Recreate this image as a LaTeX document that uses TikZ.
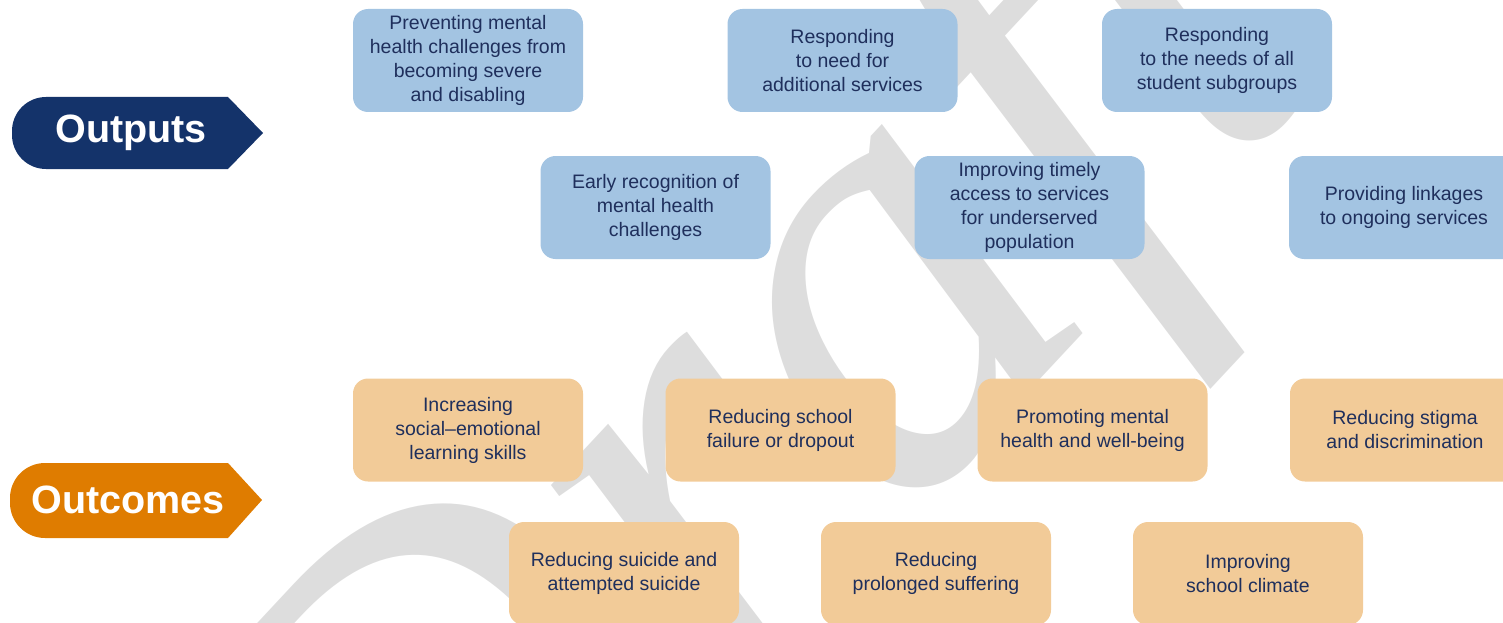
\documentclass[tikz,border=0pt]{standalone}
\usepackage{fontspec}
\setmainfont{Liberation Sans}
\newfontfamily\wmfont{Liberation Serif}
\usetikzlibrary{positioning}
\definecolor{boxblue}{HTML}{A3C4E2}
\definecolor{boxorange}{HTML}{F2CB98}
\definecolor{textnavy}{HTML}{1F2F5C}
\definecolor{labelnavy}{HTML}{14336A}
\definecolor{labelorange}{HTML}{DF7C00}
\definecolor{wmgray}{HTML}{DDDDDD}
\tikzset{
  outbox/.style={fill=boxblue, rounded corners=15pt, minimum width=230pt, minimum height=103pt,
    align=center, text=textnavy, font=\fontsize{19.5}{24}\selectfont, inner sep=0pt},
  ocbox/.style={outbox, fill=boxorange},
  tag/.style={text=white, font=\fontsize{39.5}{40}\bfseries\selectfont, inner sep=0pt}
}
\begin{document}
\begin{tikzpicture}[x=1pt,y=-1pt]
\useasboundingbox (0,0) rectangle (1503,623);
\clip (0,0) rectangle (1503,623);
% watermark
\node[text=wmgray, rotate=47, font=\fontsize{620}{620}\wmfont\itshape\selectfont, inner sep=0pt] (wm) at (775,440) {Draft};
% labels
\fill[labelnavy] (263,133) -- (228,97) [rounded corners=34pt] -- (12,97) -- (12,169) [sharp corners] -- (228,169) -- cycle;
\node[tag] (outputs) at (131,133) {Outputs};
\fill[labelorange] (262,500) -- (228,463) [rounded corners=35pt] -- (10,463) -- (10,538) [sharp corners] -- (228,538) -- cycle;
\node[tag] (outcomes) at (128,500) {Outcomes};
% outputs
\node[outbox] (b1) at (468,60.5) {Preventing mental\\health challenges from\\becoming severe\\and disabling};
\node[outbox] (b2) at (842.5,60.5) {Responding\\to need for\\additional services};
\node[outbox] (b3) at (1217,60.5) {Responding\\to the needs of all\\student subgroups};
\node[outbox] (b4) at (655.5,207.5) {Early recognition of\\mental health\\challenges};
\node[outbox] (b5) at (1029.5,207.5) {Improving timely\\access to services\\for underserved\\population};
\node[outbox] (b6) at (1404,207.5) {Providing linkages\\to ongoing services};
% outcomes
\node[ocbox] (o1) at (468,430) {Increasing\\social--emotional\\learning skills};
\node[ocbox] (o2) at (780.5,430) {Reducing school\\failure or dropout};
\node[ocbox] (o3) at (1092.5,430) {Promoting mental\\health and well-being};
\node[ocbox] (o4) at (1405,430) {Reducing stigma\\and discrimination};
\node[ocbox] (o5) at (624,573.5) {Reducing suicide and\\attempted suicide};
\node[ocbox] (o6) at (936,573.5) {Reducing\\prolonged suffering};
\node[ocbox] (o7) at (1248,573.5) {Improving\\school climate};
\end{tikzpicture}
\end{document}
